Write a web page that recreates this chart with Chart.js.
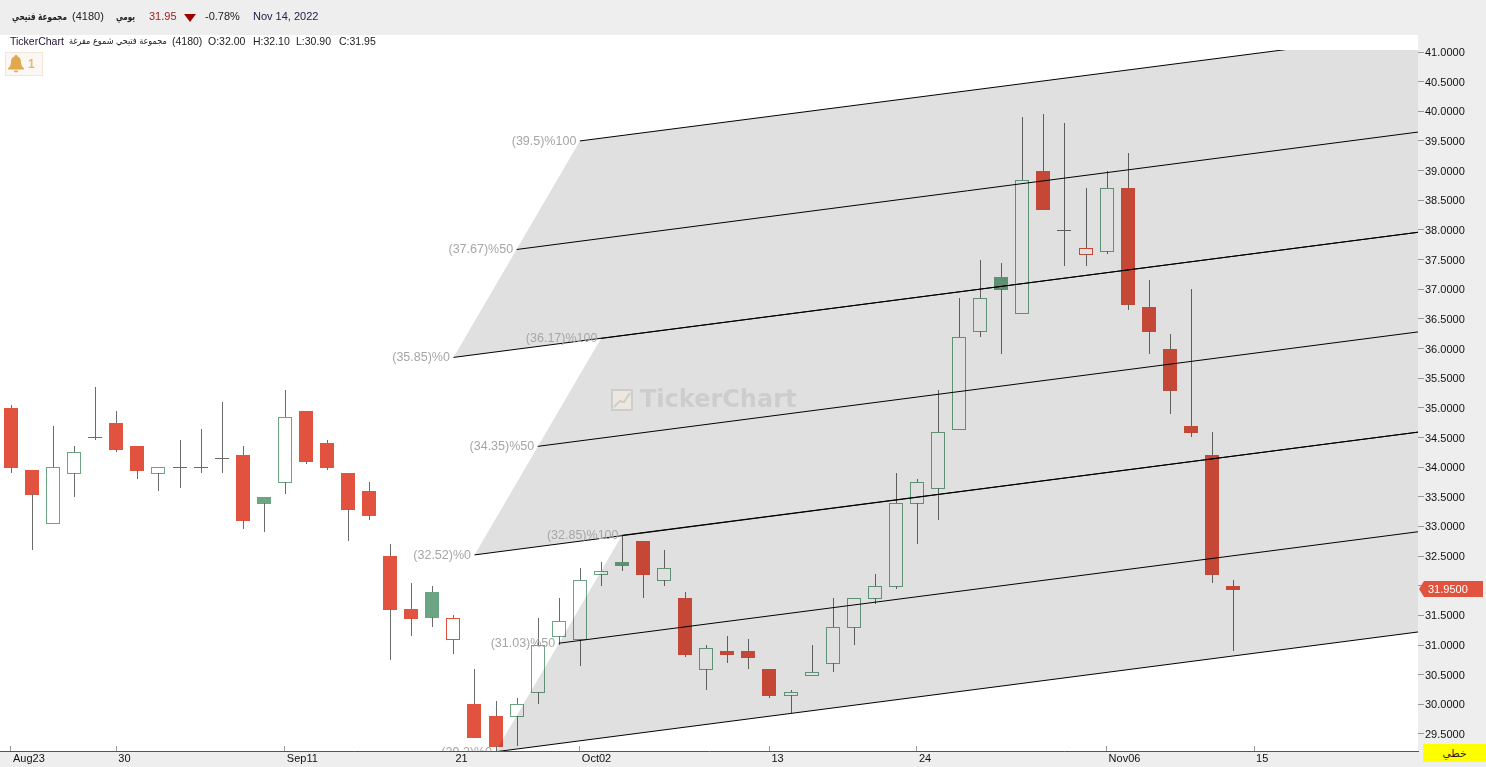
<!DOCTYPE html>
<html>
<head>
<meta charset="utf-8">
<title>TickerChart 4180</title>
<script src="https://cdn.jsdelivr.net/npm/chart.js@4/dist/chart.umd.js"></script>
<style>
    html, body { margin: 0; padding: 0; width: 1486px; height: 767px; overflow: hidden; background: #eeeeee; }
    body { position: relative; font-family: "Liberation Sans", sans-serif; font-size: 10.5px; color: #222; }
    #plotBg { position: absolute; left: 0; top: 35px; width: 1418px; height: 716px; background: #fff; }
    #priceChart { position: absolute; left: 0; top: 0; }
    .txt { position: absolute; white-space: nowrap; line-height: 14px; }
    .ar { font-family: "DejaVu Sans", sans-serif; transform-origin: left center; }
    .head { font-size: 11px; top: 9px; }
    #alertBox { position: absolute; left: 5px; top: 52px; width: 36px; height: 22px; border: 1px solid #f5e4d8; background: #fbf7f2; }
    #chartType { position: absolute; left: 1423px; top: 744px; width: 63px; height: 18px; background: #ffff00; text-align: center; line-height: 18px; font-family: "DejaVu Sans", sans-serif; font-size: 10.5px; }
    #downArrow { position: absolute; left: 184px; top: 14px; width: 0; height: 0; border-left: 6px solid transparent; border-right: 6px solid transparent; border-top: 8px solid #a00000; }
</style>
</head>
<body>
<div id="plotBg"></div>
<canvas id="priceChart" width="1486" height="767"></canvas>

<!-- top bar -->
<span class="txt ar" style="left:12px;top:9px;font-size:10.5px;font-weight:bold;transform:scaleX(0.7)" dir="rtl">مجموعة فتيحي</span>
<span class="txt head" style="left:72px">(4180)</span>
<span class="txt ar" style="left:116px;top:9px;font-size:10.5px;font-weight:bold;transform:scaleX(0.69)" dir="rtl">يومي</span>
<span class="txt head" style="left:149px;color:#a02020">31.95</span>
<div id="downArrow"></div>
<span class="txt head" style="left:205px">-0.78%</span>
<span class="txt head" style="left:253px;color:#22224a">Nov 14, 2022</span>

<!-- legend row -->
<span class="txt" style="left:10px;top:34px;color:#201030">TickerChart</span>
<span class="txt ar" style="left:69px;top:34px;font-size:9.5px;transform:scaleX(0.85)" dir="rtl">مجموعة فتيحي شموع مفرغة</span>
<span class="txt" style="left:172px;top:34px">(4180)</span>
<span class="txt" style="left:208px;top:34px">O:32.00</span>
<span class="txt" style="left:253px;top:34px">H:32.10</span>
<span class="txt" style="left:296px;top:34px">L:30.90</span>
<span class="txt" style="left:339px;top:34px">C:31.95</span>

<!-- alert bell -->
<div id="alertBox">
    <svg width="18" height="20" viewBox="0 0 18 20" style="position:absolute;left:1px;top:1px">
        <path d="M9 1c1 0 1.6.7 1.6 1.5C13 3.2 14 5.400 14 8c0 3 1 4.600 3 6.500v1H1v-1C3 12.600 4 11 4 8c0-2.600 1-4.800 3.400-5.500C7.400 1.700 8 1 9 1zM7 16.500h4c0 1.200-.9 2-2 2s-2-.8-2-2z" fill="#e0a94f"/>
    </svg>
    <span class="txt" style="left:22px;top:4px;font-size:12px;font-weight:bold;color:#e4b872">1</span>
</div>

<div id="chartType">خطي</div>

<script>
// Candles, one per trading day
const opens  = [35.0,33.95,33.05,33.9,34.5,34.75,34.35,33.9,34,34,34.15,34.2,33.5,33.75,34.95,34.4,33.9,33.6,32.5,31.6,
                31.9,31.1,30.0,29.8,29.8,30.2,31.15,31.1,32.2,32.4,32.75,32.1,31.8,30.6,30.9,30.9,30.6,30.15,30.5,30.7,
                31.3,31.8,32.0,33.4,33.65,34.65,36.3,37.2,36.6,39.0,38,37.6,37.65,38.7,36.7,36.0,34.7,34.2,32.0];
const highs  = [35.05,33.95,34.7,34.35,35.35,34.95,34.35,34.0,34.45,34.65,35.1,34.35,33.5,35.3,34.95,34.45,33.9,33.75,32.7,32.05,
                32.0,31.5,30.6,30.05,30.1,31.45,31.8,32.3,32.4,32.85,32.75,32.6,31.9,31.0,31.15,31.1,30.6,30.25,31.0,31.8,
                31.8,32.2,33.9,33.8,35.3,36.85,37.5,37.45,39.9,39.95,39.8,38.7,39.0,39.3,37.15,36.25,37.0,34.6,32.1];
const lows   = [33.9,32.6,33.05,33.5,34.45,34.25,33.8,33.6,33.65,33.9,33.9,32.95,32.9,33.55,34.05,33.95,32.75,33.1,30.75,31.15,
                31.3,30.85,29.45,29.22,29.3,30.0,31.0,30.65,32.0,32.25,31.8,32.0,30.8,30.25,30.7,30.6,30.1,29.85,30.5,30.55,
                31.0,31.7,31.95,32.7,33.1,34.65,36.2,35.9,36.6,38.35,37.4,37.4,37.6,36.65,35.9,34.9,34.5,32.05,30.9];
const closes = [34.0,33.55,34.0,34.25,34.5,34.3,33.95,34.0,34,34,34.15,33.1,33.4,34.85,34.1,34.0,33.3,33.2,31.6,31.46,
                31.48,31.45,29.45,29.3,30.0,31.0,31.4,32.1,32.25,32.35,32.2,32.3,30.85,30.95,30.85,30.8,30.15,30.2,30.55,31.3,
                31.8,32.0,33.4,33.75,34.6,36.2,36.85,37.0,38.85,38.35,38,37.7,38.7,36.75,36.3,35.3,34.6,32.2,31.95];

// Axis ticks
const xTickIdx = [0,5,13,21,27,36,43,52,59];
const xTickLabels = ['Aug23','30','Sep11','21','Oct02','13','24','Nov06','15'];
const yTicks = [29.5,30,30.5,31,31.5,32,32.5,33,33.5,34,34.5,35,35.5,36,36.5,37,37.5,38,38.5,39,39.5,40,40.5,41];

// Parallel channel lines: start bar, start price, price at the right edge
const fanLabels = ['(39.5)%100','(37.67)%50','(35.85)%0','(36.17)%100','(34.35)%50','(32.52)%0','(32.85)%100','(31.03)%50','(29.2)%0'];
const fanStartIdx = [27,24,21,28,25,22,29,26,23];
const fanStartPrice = [39.5,37.67,35.85,36.17,34.35,32.52,32.85,31.03,29.2];
const fanEndPrice = [41.33,39.65,37.96,37.96,36.28,34.59,34.59,32.91,31.22];
const xMin = -0.52, xMax = 66.78;

const RED = '#e1533f', GREEN = '#6ba584', WICK = '#6b6b6b';

function candleColor(i) {
    if (i === 0) return RED;
    return closes[i] >= closes[i - 1] ? GREEN : RED;
}

function buildWicks() {
    const out = [];
    opens.forEach((o, i) => {
        const top = Math.max(o, closes[i]), bottom = Math.min(o, closes[i]);
        if (highs[i] > top) out.push({ x: i, y: [top, highs[i]] });
        if (lows[i] < bottom) out.push({ x: i, y: [lows[i], bottom] });
    });
    return out;
}

function fanLine(n) {
    return [{ x: fanStartIdx[n], y: fanStartPrice[n] }, { x: xMax, y: fanEndPrice[n] }];
}

// Shaded channel: upper edge runs from the lower line's start up the slanted side
function channelDatasets(upper, lower) {
    const shade = { type: 'line', borderColor: 'transparent', borderWidth: 0, pointRadius: 0, order: 2 };
    return [
        { ...shade, data: [fanLine(lower)[0], ...fanLine(upper)], fill: '+1', backgroundColor: 'rgba(0,0,0,0.12)' },
        { ...shade, data: fanLine(lower), fill: false }
    ];
}

const datasets = [
    { data: buildWicks(), backgroundColor: WICK, barThickness: 1, grouped: false, inflateAmount: 0, order: 3 },
    {
        data: opens.map((o, i) => ({ x: i, y: [Math.min(o, closes[i]), Math.max(o, closes[i])] })),
        barThickness: 14, grouped: false, inflateAmount: 0, borderSkipped: false, order: 3,
        borderWidth: opens.map((o, i) => o === closes[i] ? 0 : 1),
        borderColor: opens.map((o, i) => candleColor(i)),
        backgroundColor: opens.map((o, i) => o === closes[i] ? WICK : (closes[i] > o ? 'transparent' : candleColor(i)))
    },
    ...channelDatasets(0, 2),
    ...channelDatasets(3, 5),
    ...channelDatasets(6, 8),
    ...fanLabels.map((l, n) => ({
        type: 'line', data: fanLine(n), borderColor: '#000', borderWidth: 1, pointRadius: 0, fill: false, order: 1
    }))
];

// Keep candles on whole pixels so wicks stay one pixel wide, bodies get one extra pixel at the bottom
const snapCandles = {
    id: 'snapCandles',
    afterDatasetsUpdate(chart) {
        [0, 1].forEach(d => {
            chart.getDatasetMeta(d).data.forEach(el => {
                el.x = Math.round(el.x) + (d === 0 ? 0.5 : 0);
                el.y = Math.round(el.y);
                el.base = Math.round(el.base) + (d === 1 ? 1 : 0);
            });
        });
    }
};

// Channel labels, watermark and the last price tag
const overlays = {
    id: 'overlays',
    afterDatasetsDraw(chart) {
        const { ctx, chartArea, scales: { x, y } } = chart;
        ctx.save();

        // watermark
        ctx.fillStyle = '#ece8df';
        ctx.fillRect(612, 390, 20, 20);
        ctx.strokeStyle = '#cdcdcd';
        ctx.lineWidth = 2;
        ctx.strokeRect(612, 390, 20, 20);
        ctx.beginPath();
        ctx.moveTo(614, 407); ctx.lineTo(620, 401); ctx.lineTo(624, 402); ctx.lineTo(630, 393);
        ctx.stroke();
        ctx.fillStyle = '#cdcdcd';
        ctx.font = 'bold 24px "DejaVu Sans"';
        ctx.textAlign = 'left';
        ctx.textBaseline = 'middle';
        ctx.fillText('TickerChart', 640, 401);

        // channel labels
        ctx.beginPath();
        ctx.rect(chartArea.left, chartArea.top, chartArea.width, chartArea.height);
        ctx.clip();
        ctx.fillStyle = '#a6a6a6';
        ctx.font = '12.5px "Liberation Sans"';
        ctx.textAlign = 'right';
        fanLabels.forEach((label, n) => {
            ctx.fillText(label, x.getPixelForValue(fanStartIdx[n]) - 3.5, y.getPixelForValue(fanStartPrice[n]) + 0.5);
        });
        ctx.restore();

        // price tag on the axis
        ctx.save();
        const lastClose = closes[closes.length - 1];
        const py = Math.round(y.getPixelForValue(lastClose));
        ctx.fillStyle = RED;
        ctx.beginPath();
        ctx.moveTo(1419, py);
        ctx.lineTo(1424, py - 8);
        ctx.lineTo(1483, py - 8);
        ctx.lineTo(1483, py + 8);
        ctx.lineTo(1424, py + 8);
        ctx.closePath();
        ctx.fill();
        ctx.fillStyle = '#fff';
        ctx.font = '11px "Liberation Sans"';
        ctx.textBaseline = 'middle';
        ctx.fillText(lastClose.toFixed(4), 1428, py + 1);
        ctx.restore();
    }
};

new Chart(document.getElementById('priceChart'), {
    type: 'bar',
    data: { datasets },
    plugins: [snapCandles, overlays],
    options: {
        responsive: false,
        animation: false,
        events: [],
        parsing: { xAxisKey: 'x', yAxisKey: 'y' },
        layout: { padding: { top: 50, left: 0, right: 0, bottom: 0 } },
        plugins: { legend: { display: false }, tooltip: { enabled: false } },
        scales: {
            x: {
                type: 'linear',
                min: xMin,
                max: xMax,
                offset: false,
                afterBuildTicks: scale => { scale.ticks = xTickIdx.map(v => ({ value: v })); },
                afterFit: scale => { scale.height = 16; },
                border: { display: true, color: '#555', width: 1 },
                grid: {
                    offset: false,
                    drawOnChartArea: false,
                    tickLength: -5,
                    tickColor: ctx => (ctx.tick && ctx.tick.value === 21 ? 'transparent' : '#999')
                },
                ticks: {
                    autoSkip: false,
                    maxRotation: 0,
                    align: 'start',
                    padding: 6,
                    labelOffset: 2,
                    color: '#111',
                    font: { family: '"Liberation Sans"', size: 11 },
                    callback: v => xTickLabels[xTickIdx.indexOf(v)]
                }
            },
            y: {
                position: 'right',
                min: 29.213,
                max: 41.034,
                afterBuildTicks: scale => { scale.ticks = yTicks.map(v => ({ value: v })); },
                afterFit: scale => { scale.width = 68; },
                border: { display: false },
                grid: { drawOnChartArea: false, tickLength: 6, tickColor: '#999' },
                ticks: {
                    padding: 1,
                    labelOffset: 1,
                    color: '#111',
                    font: { family: '"Liberation Sans"', size: 11 },
                    callback: v => v.toFixed(4)
                }
            }
        }
    }
});
</script>
</body>
</html>
